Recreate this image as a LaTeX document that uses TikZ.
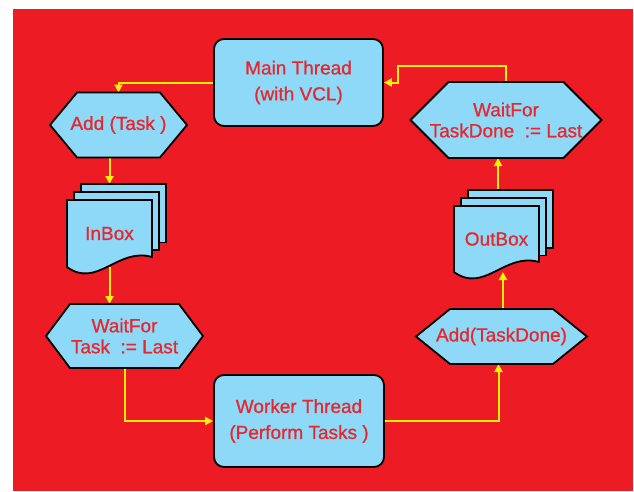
\documentclass[tikz,border=0pt]{standalone}
\usepackage{fontspec}
\setmainfont{Liberation Sans}
\newfontfamily\labelfont{Liberation Sans}[FakeBold=0.8]
\usetikzlibrary{arrows.meta,calc,backgrounds}
\definecolor{bgred}{HTML}{ED1C24}
\definecolor{boxblue}{HTML}{8ED8F8}
\definecolor{txtred}{HTML}{E8262D}
\definecolor{flowyellow}{HTML}{FFF200}

\begin{document}
\begin{tikzpicture}[
  x=1pt,
  y=-1pt,
  font=\labelfont\fontsize{19}{21}\selectfont,
  thread/.style={rectangle, rounded corners=10pt, draw=black, line width=1.8pt, fill=boxblue, text=txtred, minimum width=169pt, minimum height=87pt, align=center},
  hexnode/.style={rectangle, text=txtred, inner sep=0pt, outer sep=0pt, align=center},
  docnode/.style={rectangle, text=txtred, inner sep=0pt, outer sep=0pt, minimum width=85pt, minimum height=67pt},
  outline/.style={draw=black, line width=1.8pt, fill=boxblue, line join=miter},
  flow/.style={draw=flowyellow, line width=2pt, -{Triangle[length=8pt, width=8pt]}}
]
  \useasboundingbox (0,0) rectangle (634,491);
  \begin{scope}[on background layer]
    \fill[bgred] (13,9) rectangle (633,491);
  \end{scope}

  \node[thread] (main) at (298.5,82.5) {Main Thread\\[5pt](with VCL)};
  \node[thread, minimum width=170pt, minimum height=92pt] (worker) at (299,421) {Worker Thread\\[5pt](Perform Tasks )};

  \node[hexnode, minimum width=137pt, minimum height=65pt] (addtask) at (118.5,125) {Add (Task )};
  \node[hexnode, minimum width=157pt, minimum height=64pt] (waittask) at (124.5,336) {WaitFor\\Task~~:= Last};
  \node[hexnode, minimum width=171pt, minimum height=55pt] (addtd) at (501.5,336.5) {Add(TaskDone)};
  \node[hexnode, minimum width=191pt, minimum height=76pt] (waittd) at (506,120) {WaitFor\\TaskDone~~:= Last};

  \node[docnode] (inbox) at (109.5,233.5) {InBox};
  \node[docnode, minimum height=66pt] (outbox) at (496.5,239) {OutBox};
  \coordinate (inboxback) at ($(inbox.north)+(0,-16)$);
  \coordinate (outboxback) at ($(outbox.north)+(1.5,-16)$);

  \begin{scope}[on background layer]
    \draw[flow] (main.west) -| (addtask.north);
    \draw[flow] (addtask.south -| inboxback) -- (inboxback);
    \draw[flow] (inbox.south) -- (inbox.south |- waittask.north);
    \draw[flow] (waittask.south) |- (worker.west);
    \draw[flow] (worker.east) -| ([xshift=-3pt]addtd.south);
    \draw[flow] ([xshift=1.5pt]addtd.north) -- ([xshift=1.5pt]addtd.north |- outbox.south);
    \draw[flow] (outboxback) -- (outboxback |- waittd.south);
    \draw[flow] (waittd.north) -- ++(0,-16) -| ($(main.east)+(14,0)$) -- (main.east);

    \foreach \n/\s in {addtask/27,waittask/24,addtd/34,waittd/38}
      \draw[outline] (\n.west) -- ($(\n.north west)+(\s,0)$) -- ($(\n.north east)+(-\s,0)$) -- (\n.east) -- ($(\n.south east)+(-\s,0)$) -- ($(\n.south west)+(\s,0)$) -- cycle;

    \foreach \n in {inbox,outbox} {
      \draw[outline] ($(\n.north west)+(14,-16)$) rectangle ($(\n.east)+(14,9)$);
      \draw[outline] ($(\n.north west)+(7,-8)$) rectangle ($(\n.east)+(7,16.5)$);
      \draw[outline] (\n.south west) -- (\n.north west) -- (\n.north east) -- ($(\n.south east)+(0,-10)$)
        .. controls ($(\n.south west)+(51,-20)$) and ($(\n.south west)+(30,22)$) .. (\n.south west) -- cycle;
    }
  \end{scope}
\end{tikzpicture}
\end{document}
